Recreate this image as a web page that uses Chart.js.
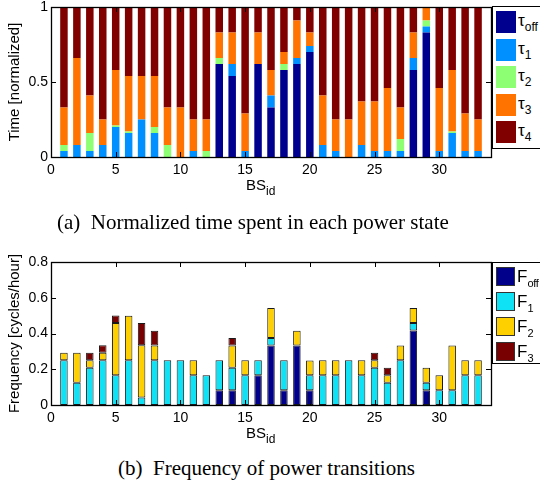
<!DOCTYPE html>
<html>
<head>
<meta charset="utf-8">
<script src="https://cdn.jsdelivr.net/npm/chart.js@4.4.1/dist/chart.umd.min.js"></script>
<style>
  body { margin: 0; background: #fff; overflow: hidden; }
  #wrap { position: relative; width: 540px; height: 485px; font-family: "Liberation Sans", Arial, sans-serif; }
  canvas { position: absolute; left: 0; }
  .legend { position: absolute; left: 492px; width: 60px; border: 1px solid #000; background: #fff; }
  .item { position: absolute; left: 3px; height: 22px; }
  .sw { position: absolute; left: 0; top: 0; width: 20px; height: 22px; }
  .lab { position: absolute; left: 22px; top: 0; font-size: 17px; line-height: 20px; white-space: nowrap; }
  .lab sub { font-size: 12px; vertical-align: -5px; }
  .lab.f { left: 21px; }
  .lab.f sub { font-size: 11px; letter-spacing: -0.3px; }
  .xt { position: absolute; left: 246px; font-size: 15px; line-height: 15px; white-space: nowrap; }
  .xt sub { font-size: 12px; vertical-align: -5px; }
  .cap { position: absolute; font-family: "Liberation Serif", "Times New Roman", serif; font-size: 21px; line-height: 24px; white-space: nowrap; }
</style>
</head>
<body>
<div id="wrap">
  <canvas id="timeChart" width="540" height="195" style="top:0"></canvas>
  <canvas id="freqChart" width="540" height="190" style="top:250px"></canvas>

  <div class="xt" style="top:177px">BS<sub>id</sub></div>
  <div class="xt" style="top:425px">BS<sub>id</sub></div>

  <div class="cap" style="left:57px; top:210px">(a)&nbsp; Normalized time spent in each power state</div>
  <div class="cap" style="left:118px; top:456px">(b)&nbsp; Frequency of power transitions</div>

  <div class="legend" id="legendTop" style="top:6px; height:141px"></div>
  <div class="legend" id="legendBottom" style="top:262px; height:100px"></div>
</div>

<script>
// BS ids on the x axis
const bsIds = [1, 2, 3, 4, 5, 6, 7, 8, 9, 10, 11, 12, 13, 14, 15, 16, 17, 18, 19, 20,
  21, 22, 23, 24, 25, 26, 27, 28, 29, 30, 31, 32, 33];
const xTicks = [0, 5, 10, 15, 20, 25, 30];

// (a) normalized time in each power state
const tauOff = [0, 0, 0, 0, 0, 0, 0, 0, 0, 0, 0, 0, 0.62, 0.54, 0, 0.62, 0.33, 0.58, 0.62, 0.70,
  0, 0, 0, 0, 0, 0, 0, 0.58, 0.83, 0, 0, 0, 0];
const tau1 = [0.04, 0.08, 0.04, 0.08, 0.20, 0.16, 0.25, 0.16, 0, 0, 0.04, 0, 0, 0.08, 0.04, 0, 0.08, 0, 0.04, 0.04,
  0.08, 0.04, 0, 0.08, 0.04, 0.04, 0.04, 0.08, 0.04, 0.04, 0.16, 0.04, 0.04];
const tau2 = [0.04, 0, 0.12, 0, 0.01, 0.01, 0, 0.04, 0.08, 0, 0, 0.04, 0.04, 0, 0, 0, 0, 0.04, 0, 0,
  0, 0, 0, 0, 0, 0, 0.08, 0, 0.04, 0, 0.01, 0, 0];
const tau3 = [0.25, 0.58, 0.25, 0.17, 0.37, 0.37, 0.29, 0.34, 0.25, 0.33, 0.21, 0.21, 0.17, 0.21, 0.25, 0.21, 0.17, 0.08, 0.25, 0.09,
  0.33, 0.21, 0.25, 0.29, 0.33, 0.42, 0.21, 0.17, 0.09, 0.42, 0.41, 0.25, 0.21];
const tau4 = [0.67, 0.34, 0.59, 0.75, 0.42, 0.46, 0.46, 0.46, 0.67, 0.67, 0.75, 0.75, 0.17, 0.17, 0.71, 0.17, 0.42, 0.30, 0.09, 0.17,
  0.59, 0.75, 0.75, 0.63, 0.63, 0.54, 0.67, 0.17, 0, 0.54, 0.42, 0.71, 0.75];
const timeTicks = [0, 0.5, 1];

// (b) frequency of power transitions, cycles/hour
const fOff = [0, 0, 0, 0, 0, 0, 0, 0, 0, 0, 0, 0, 0.083, 0.083, 0, 0.167, 0.333, 0.083, 0.333, 0.083,
  0, 0, 0, 0, 0, 0, 0, 0.417, 0.083, 0, 0, 0, 0];
const f1 = [0.25, 0.125, 0.208, 0.25, 0.167, 0.25, 0.042, 0.25, 0.25, 0.25, 0.167, 0.167, 0.167, 0.125, 0.167, 0.083, 0.042, 0.167, 0, 0.083,
  0.167, 0.167, 0.25, 0.167, 0.208, 0.125, 0.25, 0.042, 0.042, 0.083, 0.083, 0.167, 0.167];
const f2 = [0.042, 0.167, 0.042, 0.042, 0.292, 0.25, 0.292, 0.083, 0, 0, 0.083, 0, 0, 0.125, 0.083, 0, 0.167, 0, 0.083, 0.083,
  0.083, 0.083, 0, 0.083, 0.042, 0.042, 0.083, 0.083, 0.083, 0.083, 0.25, 0.083, 0.083];
const f3 = [0, 0, 0.042, 0.042, 0.042, 0, 0.125, 0.083, 0, 0, 0, 0, 0, 0.042, 0, 0, 0, 0, 0, 0,
  0, 0, 0, 0, 0.042, 0.042, 0, 0, 0, 0, 0, 0, 0];
const freqTicks = [0, 0.2, 0.4, 0.6, 0.8];

const tickFont = { family: "'Liberation Sans', Arial, sans-serif", size: 14, lineHeight: 1 };

function points(values) {
  return values.map((v, i) => ({ x: bsIds[i], y: v }));
}

// matlab style box with inward ticks on all four sides
const boxPlugin = {
  id: "box",
  afterDatasetsDraw(chart) {
    const { ctx, chartArea: a, scales } = chart;
    ctx.save();
    ctx.strokeStyle = "#000";
    ctx.lineWidth = 1;
    ctx.beginPath();
    scales.x.ticks.forEach((t) => {
      const px = Math.round(scales.x.getPixelForValue(t.value)) + 0.5;
      ctx.moveTo(px, a.bottom); ctx.lineTo(px, a.bottom - 5);
      ctx.moveTo(px, a.top); ctx.lineTo(px, a.top + 5);
    });
    scales.y.ticks.forEach((t) => {
      const py = Math.round(scales.y.getPixelForValue(t.value)) + 0.5;
      ctx.moveTo(a.left, py); ctx.lineTo(a.left + 5, py);
      ctx.moveTo(a.right, py); ctx.lineTo(a.right - 5, py);
    });
    ctx.stroke();
    ctx.lineWidth = 1.3;
    ctx.strokeRect(Math.round(a.left) + 0.5, Math.round(a.top) + 0.5,
      Math.round(a.right - a.left), Math.round(a.bottom - a.top));
    ctx.restore();
  },
};

function makeChart(canvasId, sets, yMax, yTicks, yTitle, padTop, xHeight, bordered) {
  return new Chart(document.getElementById(canvasId), {
    type: "bar",
    data: {
      datasets: sets.map((s) => ({
        label: s.label,
        data: points(s.data),
        backgroundColor: s.color,
        borderColor: bordered ? "#1a1a1a" : s.color,
        borderWidth: bordered ? 1 : 0,
        borderSkipped: false,
        barPercentage: 0.58,
        categoryPercentage: 1,
      })),
    },
    options: {
      responsive: false,
      animation: false,
      layout: { padding: { top: padTop, right: 49, left: 0, bottom: 0 } },
      plugins: { legend: { display: false }, tooltip: { enabled: false } },
      scales: {
        x: {
          type: "linear",
          stacked: true,
          offset: false,
          min: 0,
          max: 34,
          grid: { display: false, drawTicks: false, offset: false },
          border: { display: false },
          afterBuildTicks: (s) => { s.ticks = xTicks.map((v) => ({ value: v })); },
          afterFit: (s) => { s.height = xHeight; s.paddingLeft = 0; s.paddingRight = 0; },
          ticks: { font: tickFont, color: "#000", padding: 6, maxRotation: 0 },
        },
        y: {
          stacked: true,
          min: 0,
          max: yMax,
          grid: { display: false, drawTicks: false },
          border: { display: false },
          afterBuildTicks: (s) => { s.ticks = yTicks.map((v) => ({ value: v })); },
          afterFit: (s) => { s.width = 51; s.paddingTop = 0; s.paddingBottom = 0; },
          ticks: {
            font: tickFont,
            color: "#000",
            padding: 3,
            callback: (v) => String(Math.round(v * 10) / 10),
          },
          title: {
            display: true,
            text: yTitle,
            color: "#000",
            font: { family: "'Liberation Sans', Arial, sans-serif", size: 15 },
            padding: { top: 6, bottom: 0 },
          },
        },
      },
    },
    plugins: [boxPlugin],
  });
}

const timeSets = [
  { label: "off", data: tauOff, color: "#00008f" },
  { label: "1", data: tau1, color: "#0090ff" },
  { label: "2", data: tau2, color: "#8cff73" },
  { label: "3", data: tau3, color: "#ff7300" },
  { label: "4", data: tau4, color: "#800000" },
];
const freqSets = [
  { label: "off", data: fOff, color: "#00008b" },
  { label: "1", data: f1, color: "#10e2f6" },
  { label: "2", data: f2, color: "#ffd000" },
  { label: "3", data: f3, color: "#780000" },
];

makeChart("timeChart", timeSets, 1, timeTicks, "Time [normalized]", 7, 38, false);
makeChart("freqChart", freqSets, 0.8, freqTicks, "Frequency [cycles/hour]", 12, 35, true);

// legends with subscripts
function buildLegend(boxId, sets, symbol, step, size, bordered, cls) {
  const box = document.getElementById(boxId);
  sets.forEach((s, i) => {
    const item = document.createElement("div");
    item.className = "item";
    item.style.top = (4 + i * step) + "px";
    const sw = document.createElement("div");
    sw.className = "sw";
    sw.style.background = s.color;
    sw.style.width = size[0] + "px";
    sw.style.height = size[1] + "px";
    if (bordered) { sw.style.boxSizing = "border-box"; sw.style.border = "1px solid #333"; }
    const lab = document.createElement("div");
    lab.className = "lab " + cls;
    lab.innerHTML = symbol + "<sub>" + s.label + "</sub>";
    item.appendChild(sw);
    item.appendChild(lab);
    box.appendChild(item);
  });
}

buildLegend("legendTop", timeSets, "&tau;", 27.5, [20, 22], false, "");
buildLegend("legendBottom", freqSets, "F", 25, [19, 19], true, "f");
</script>
</body>
</html>
